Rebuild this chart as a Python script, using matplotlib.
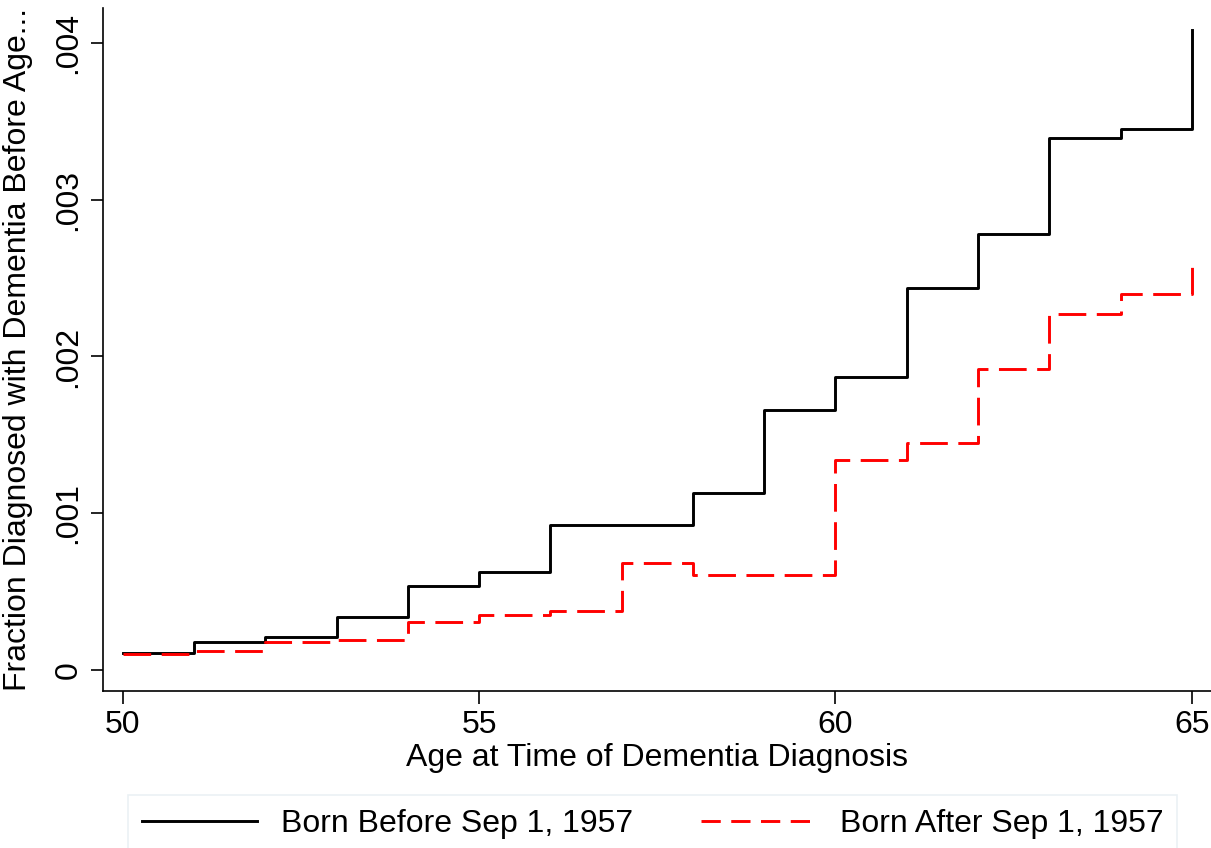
import numpy as np
from matplotlib import pyplot as plt
from matplotlib.lines import Line2D

# age at diagnosis (step starts) and cumulative fraction diagnosed
ages = [50, 51, 52, 53, 54, 55, 56, 57, 58, 59, 60, 61, 62, 63, 64, 65]
born_before = [0.000108, 0.000183, 0.000215, 0.000338, 0.000541, 0.000630, 0.000925,
               0.000928, 0.001130, 0.001660, 0.001870, 0.002435, 0.002780, 0.003390,
               0.003450, 0.004080]
born_after = [0.000104, 0.000127, 0.000183, 0.000193, 0.000308, 0.000355, 0.000381,
              0.000684, 0.000607, 0.000607, 0.001340, 0.001450, 0.001920, 0.002270,
              0.002400, 0.002580]

x_ticks = [50, 55, 60, 65]
y_ticks = [0, 0.001, 0.002, 0.003, 0.004]
y_tick_labels = ['0', '.001', '.002', '.003', '.004']
labels = ['Born Before Sep 1, 1957', 'Born After Sep 1, 1957']

plt.rcParams['font.family'] = ['Liberation Sans', 'DejaVu Sans']
fs = 23

fig = plt.figure(figsize=(12.11, 8.48), dpi=100)
ax = fig.add_axes([103/1211, 1-691/848, 1-103/1211, (691-8)/848])

ax.step(ages, born_before, where='post', color='black', lw=2.1)
ax.step(ages, born_after, where='post', color='red', lw=2.1, dashes=(9.5, 3.6))

ax.set_xlim(49.72, 65.27)
ax.set_ylim(-0.000131, 0.00422)
ax.set_xticks(x_ticks)
ax.set_yticks(y_ticks)
ax.set_yticklabels(y_tick_labels, rotation=90, va='center')
ax.tick_params(labelsize=fs, length=9, width=1.2, direction='out', pad=5)
ax.spines['top'].set_visible(False)
ax.spines['right'].set_visible(False)
ax.spines['left'].set_linewidth(1.2)
ax.spines['bottom'].set_linewidth(1.2)

ax.set_xlabel('Age at Time of Dementia Diagnosis', fontsize=fs, labelpad=2)
ax.set_ylabel('Fraction Diagnosed with Dementia Before Age...', fontsize=fs)
ax.yaxis.set_label_coords(-0.063, 0.5)

handles = [Line2D([], [], color='black', lw=2.1),
           Line2D([], [], color='red', lw=2.1, dashes=(6.6, 3.6))]
leg = fig.legend(handles, labels, loc='upper left', ncol=2,
                 bbox_to_anchor=(128/1211, 1-795/848),
                 fontsize=fs, frameon=True, fancybox=False, handlelength=3.6,
                 handletextpad=0.75, columnspacing=2.1, borderpad=0.45,
                 borderaxespad=0)
leg.get_frame().set_edgecolor('#e6eef2')
leg.get_frame().set_linewidth(1.2)

plt.savefig('out.png', dpi=100)
plt.close()
